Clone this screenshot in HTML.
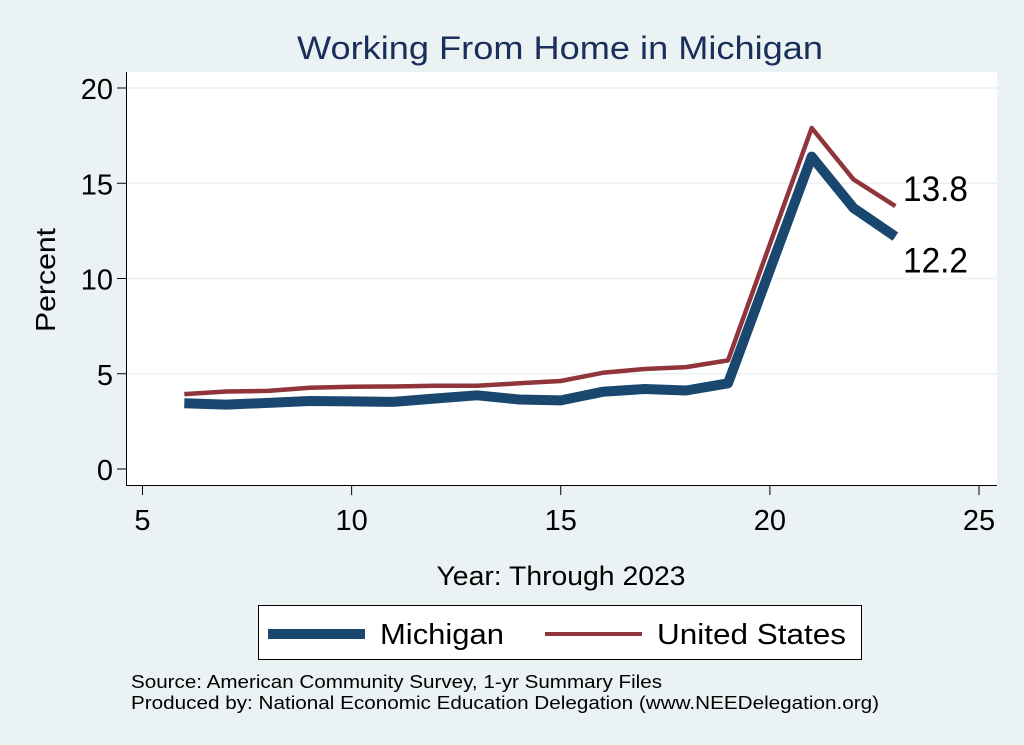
<!DOCTYPE html>
<html><head><meta charset="utf-8"><style>
html,body{margin:0;padding:0;background:#eaf2f3;}
svg{display:block;font-family:"Liberation Sans",Arial,sans-serif;}
</style></head><body>
<svg id="chart" width="1024" height="745" viewBox="0 0 1024 745" xmlns="http://www.w3.org/2000/svg">
<rect x="0" y="0" width="1024" height="745" fill="#eaf2f3"/>
<text x="560" y="59" text-anchor="middle" font-size="32" fill="#1a2e5a" textLength="526" lengthAdjust="spacingAndGlyphs">Working From Home in Michigan</text>
<rect x="127" y="72" width="870" height="413" fill="#fff"/>
<g id="grid"></g>
<g id="series"></g>
<g id="axes"></g>
<text transform="translate(55,280) rotate(-90)" text-anchor="middle" font-size="28" fill="#000" textLength="104" lengthAdjust="spacingAndGlyphs">Percent</text>
<text x="561" y="585" text-anchor="middle" font-size="27" fill="#000" textLength="249" lengthAdjust="spacingAndGlyphs">Year: Through 2023</text>
<g>
<rect x="258.5" y="605.5" width="603" height="54" fill="#fff" stroke="#000" stroke-width="1"/>
<line x1="268" y1="634" x2="365" y2="634" stroke="#1a476f" stroke-width="10"/>
<text x="380" y="644" font-size="29" textLength="124" lengthAdjust="spacingAndGlyphs">Michigan</text>
<line x1="545" y1="634" x2="642" y2="634" stroke="#90353b" stroke-width="4"/>
<text x="657" y="644" font-size="29" textLength="189" lengthAdjust="spacingAndGlyphs">United States</text>
</g>
<text x="131" y="688" font-size="18" textLength="531" lengthAdjust="spacingAndGlyphs">Source: American Community Survey, 1-yr Summary Files</text>
<text x="131" y="709" font-size="18" textLength="748" lengthAdjust="spacingAndGlyphs">Produced by: National Economic Education Delegation (www.NEEDelegation.org)</text>
</svg>
<script>
const years=[6,7,8,9,10,11,12,13,14,15,16,17,18,19,21,22,23];
const michigan=[3.45,3.38,3.47,3.57,3.55,3.52,3.7,3.87,3.65,3.6,4.05,4.2,4.12,4.5,16.4,13.7,12.2];
const unitedStates=[3.93,4.07,4.1,4.27,4.32,4.33,4.37,4.37,4.5,4.62,5.05,5.25,5.35,5.7,17.9,15.2,13.8];
const xTicks=[5,10,15,20,25];
const yTicks=[0,5,10,15,20];
const NS='http://www.w3.org/2000/svg';
const X=v=>142.5+(v-5)*(979-142.5)/20;
const Y=v=>469-v*(469-88)/20;
function mk(t,a,p){const e=document.createElementNS(NS,t);for(const k in a)e.setAttribute(k,a[k]);p.appendChild(e);return e;}
const grid=document.getElementById('grid'),axes=document.getElementById('axes'),series=document.getElementById('series');
yTicks.forEach(v=>{
 if(v>0){const g=mk('line',{x1:127,x2:997,y1:Y(v),y2:Y(v),stroke:'#eaf2f3','stroke-width':1.5},grid);
 
 }
 const t=mk('line',{x1:117,x2:127,y1:Y(v),y2:Y(v),stroke:'#000','stroke-width':1},axes);
 
 
 const l=mk('text',{x:113,y:Y(v)+11,'text-anchor':'end','font-size':29},axes);l.textContent=v;
 
 
});
xTicks.forEach(v=>{
 const t=mk('line',{x1:X(v),x2:X(v),y1:485,y2:495,stroke:'#000','stroke-width':1},axes);
 
 
 const l=mk('text',{x:X(v),y:530,'text-anchor':'middle','font-size':29},axes);l.textContent=v;
 
 
});
const ax=mk('path',{d:'M126.5 72 V485.5 H997',fill:'none',stroke:'#000','stroke-width':1},axes);


function line(vals,color,w,name){
 const d=vals.map((v,i)=>(i?'L':'M')+X(years[i]).toFixed(1)+' '+Y(v).toFixed(1)).join(' ');
 const p=mk('path',{d:d,fill:'none',stroke:color,'stroke-width':w,'stroke-linejoin':'round'},series);
 
 
}
line(unitedStates,'#90353b',4.5,'united-states-line');
line(michigan,'#1a476f',10,'michigan-line');
const n=years.length-1;
const l1=mk('text',{x:903,y:Y(unitedStates[n])-5,'font-size':35,textLength:65,lengthAdjust:'spacingAndGlyphs'},series);l1.textContent=unitedStates[n].toFixed(1);


const l2=mk('text',{x:903,y:Y(michigan[n])+36,'font-size':35,textLength:65,lengthAdjust:'spacingAndGlyphs'},series);l2.textContent=michigan[n].toFixed(1);


</script>
</body></html>
